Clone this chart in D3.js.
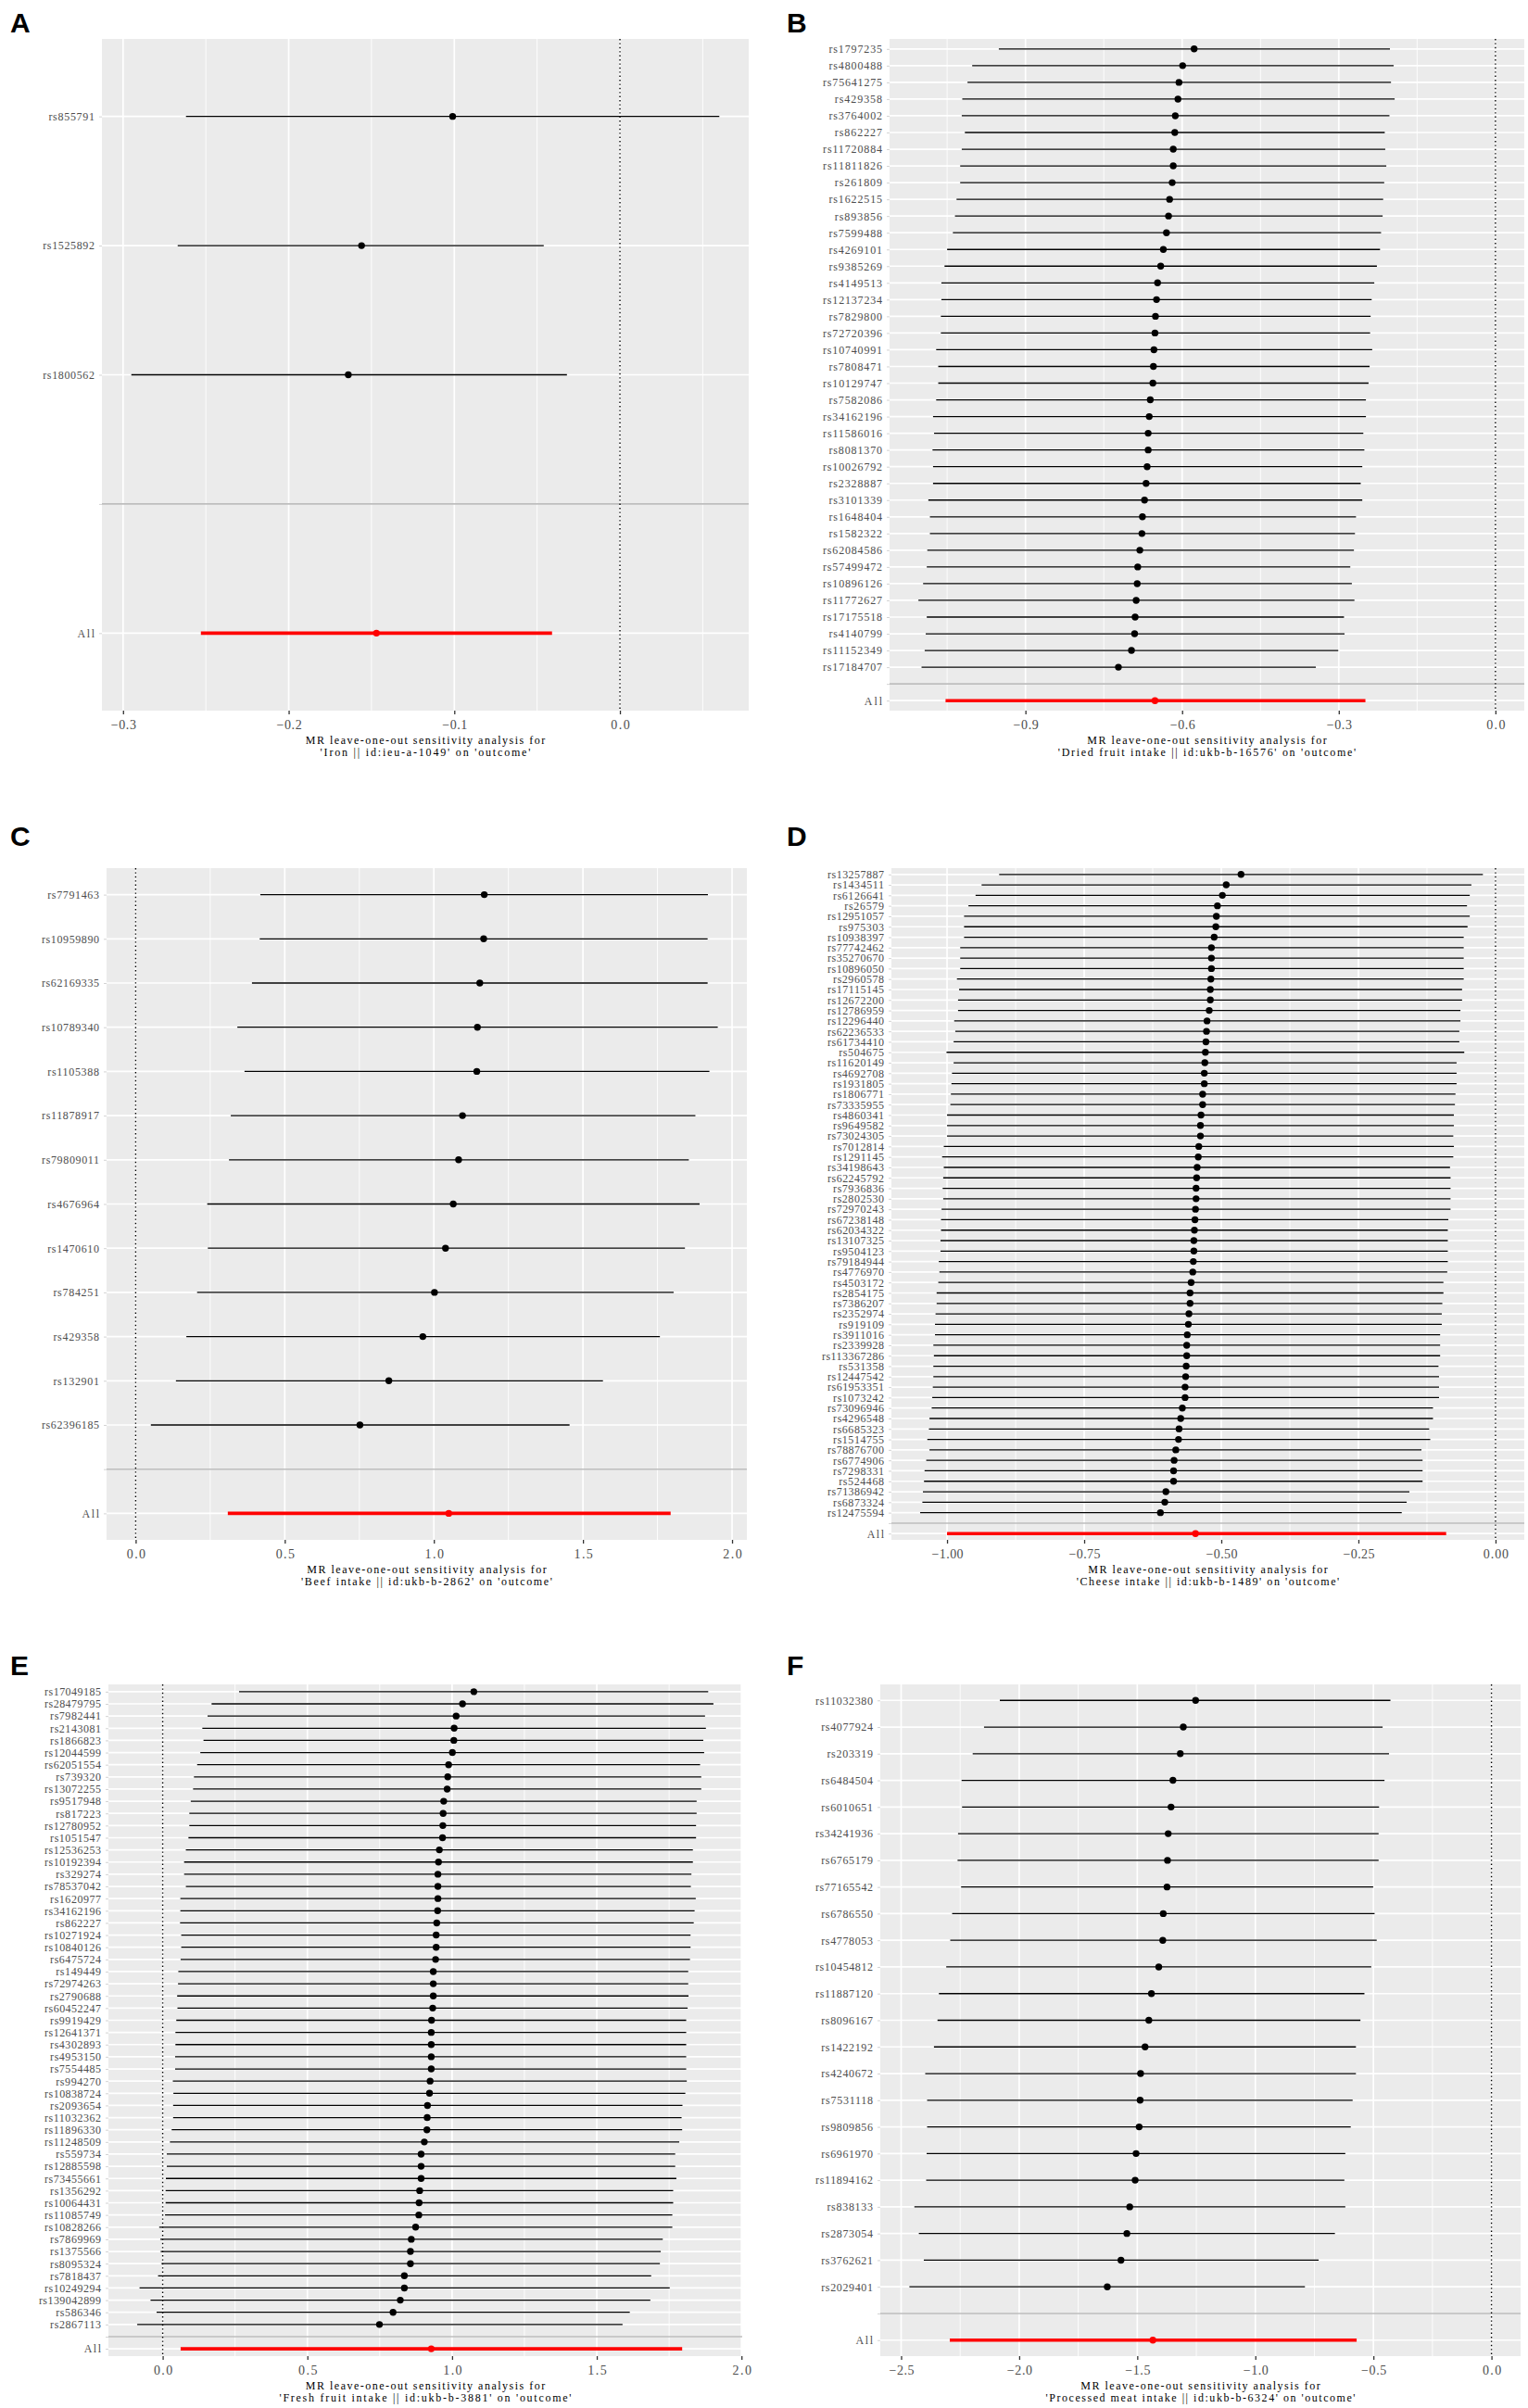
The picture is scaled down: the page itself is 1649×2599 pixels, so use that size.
<!DOCTYPE html>
<html>
<head>
<meta charset="utf-8">
<script src="https://cdn.jsdelivr.net/npm/d3@7/dist/d3.min.js"></script>
<style>
  body { margin: 0; background: #fff; }
</style>
</head>
<body>
<div id="chart"></div>
<script>
// ---------------------------------------------------------------
// Leave-one-out estimates (top row to bottom).
// "All" is kept apart: [b, lo, up]
// ---------------------------------------------------------------

// A: Iron
var snpsA = ["rs855791", "rs1525892", "rs1800562"];
var bA  = [-0.101, -0.156, -0.164];
var loA = [-0.262, -0.267, -0.295];
var upA = [0.060, -0.046, -0.032];
var allA = [-0.147, -0.253, -0.041];
var exposureA = "Iron || id:ieu-a-1049";
var ticksA = [-0.3, -0.2, -0.1, 0.0];

// B: Dried fruit intake
var snpsB = ["rs1797235", "rs4800488", "rs75641275", "rs429358", "rs3764002", "rs862227", "rs11720884",
  "rs11811826", "rs261809", "rs1622515", "rs893856", "rs7599488", "rs4269101", "rs9385269", "rs4149513",
  "rs12137234", "rs7829800", "rs72720396", "rs10740991", "rs7808471", "rs10129747", "rs7582086",
  "rs34162196", "rs11586016", "rs8081370", "rs10026792", "rs2328887", "rs3101339", "rs1648404",
  "rs1582322", "rs62084586", "rs57499472", "rs10896126", "rs11772627", "rs17175518", "rs4140799",
  "rs11152349", "rs17184707"];
var bB = [-0.577, -0.599, -0.606, -0.608, -0.613, -0.614, -0.617, -0.617, -0.619, -0.624, -0.626, -0.630,
  -0.636, -0.641, -0.647, -0.649, -0.651, -0.652, -0.654, -0.655, -0.656, -0.661, -0.663, -0.665, -0.665,
  -0.667, -0.669, -0.672, -0.676, -0.677, -0.681, -0.685, -0.686, -0.688, -0.690, -0.691, -0.697, -0.722];
var loB = [-0.951, -1.002, -1.011, -1.021, -1.022, -1.016, -1.022, -1.025, -1.025, -1.032, -1.035, -1.039,
  -1.050, -1.055, -1.061, -1.061, -1.062, -1.062, -1.071, -1.067, -1.067, -1.071, -1.077, -1.075, -1.078,
  -1.077, -1.077, -1.086, -1.083, -1.083, -1.088, -1.089, -1.096, -1.105, -1.089, -1.091, -1.093, -1.099];
var upB = [-0.202, -0.195, -0.200, -0.193, -0.203, -0.212, -0.211, -0.209, -0.213, -0.215, -0.216, -0.219,
  -0.221, -0.227, -0.232, -0.237, -0.239, -0.240, -0.236, -0.241, -0.243, -0.248, -0.248, -0.253, -0.251,
  -0.255, -0.258, -0.255, -0.267, -0.269, -0.271, -0.278, -0.275, -0.270, -0.290, -0.289, -0.301, -0.344];
var allB = [-0.652, -1.053, -0.249];
var exposureB = "Dried fruit intake || id:ukb-b-16576";
var ticksB = [-0.9, -0.6, -0.3, 0.0];

// C: Beef intake
var snpsC = ["rs7791463", "rs10959890", "rs62169335", "rs10789340", "rs1105388", "rs11878917",
  "rs79809011", "rs4676964", "rs1470610", "rs784251", "rs429358", "rs132901", "rs62396185"];
var bC  = [1.169, 1.167, 1.154, 1.146, 1.144, 1.096, 1.083, 1.065, 1.039, 1.002, 0.963, 0.849, 0.752];
var loC = [0.418, 0.416, 0.390, 0.341, 0.365, 0.319, 0.313, 0.240, 0.242, 0.206, 0.170, 0.135, 0.051];
var upC = [1.919, 1.918, 1.918, 1.952, 1.924, 1.877, 1.855, 1.891, 1.842, 1.804, 1.758, 1.567, 1.455];
var allC = [1.050, 0.309, 1.794];
var exposureC = "Beef intake || id:ukb-b-2862";
var ticksC = [0.0, 0.5, 1.0, 1.5, 2.0];

// D: Cheese intake
var snpsD = ["rs13257887", "rs1434511", "rs6126641", "rs26579", "rs12951057", "rs975303", "rs10938397",
  "rs77742462", "rs35270670", "rs10896050", "rs2960578", "rs17115145", "rs12672200", "rs12786959",
  "rs12296440", "rs62236533", "rs61734410", "rs504675", "rs11620149", "rs4692708", "rs1931805",
  "rs1806771", "rs73335955", "rs4860341", "rs9649582", "rs73024305", "rs7012814", "rs1291145",
  "rs34198643", "rs62245792", "rs7936836", "rs2802530", "rs72970243", "rs67238148", "rs62034322",
  "rs13107325", "rs9504123", "rs79184944", "rs4776970", "rs4503172", "rs2854175", "rs7386207",
  "rs2352974", "rs919109", "rs3911016", "rs2339928", "rs113367286", "rs531358", "rs12447542",
  "rs61953351", "rs1073242", "rs73096946", "rs4296548", "rs6685323", "rs1514755", "rs78876700",
  "rs6774906", "rs7298331", "rs524468", "rs71386942", "rs6873324", "rs12475594"];
var bD = [-0.464, -0.491, -0.498, -0.507, -0.509, -0.510, -0.513, -0.518, -0.518, -0.518, -0.519, -0.520,
  -0.520, -0.522, -0.526, -0.527, -0.528, -0.529, -0.530, -0.531, -0.531, -0.534, -0.534, -0.537, -0.538,
  -0.538, -0.541, -0.542, -0.544, -0.545, -0.546, -0.546, -0.547, -0.548, -0.549, -0.550, -0.550, -0.551,
  -0.552, -0.555, -0.557, -0.557, -0.559, -0.560, -0.562, -0.563, -0.563, -0.564, -0.565, -0.566, -0.566,
  -0.571, -0.574, -0.577, -0.578, -0.583, -0.586, -0.587, -0.587, -0.601, -0.603, -0.611];
var loD = [-0.905, -0.937, -0.948, -0.961, -0.969, -0.969, -0.969, -0.976, -0.976, -0.976, -0.982, -0.978,
  -0.980, -0.980, -0.987, -0.985, -0.988, -1.001, -0.988, -0.991, -0.992, -0.993, -0.994, -1.000, -1.000,
  -1.000, -1.006, -1.009, -1.006, -1.007, -1.008, -1.007, -1.010, -1.011, -1.011, -1.012, -1.012, -1.015,
  -1.014, -1.016, -1.019, -1.019, -1.021, -1.022, -1.022, -1.025, -1.024, -1.025, -1.025, -1.026, -1.027,
  -1.028, -1.032, -1.033, -1.036, -1.032, -1.038, -1.041, -1.042, -1.044, -1.045, -1.049];
var upD = [-0.023, -0.044, -0.047, -0.052, -0.047, -0.051, -0.058, -0.058, -0.058, -0.058, -0.058, -0.061,
  -0.061, -0.064, -0.064, -0.066, -0.066, -0.057, -0.071, -0.071, -0.071, -0.073, -0.074, -0.076, -0.076,
  -0.077, -0.076, -0.077, -0.083, -0.082, -0.082, -0.082, -0.082, -0.086, -0.087, -0.087, -0.087, -0.087,
  -0.088, -0.095, -0.095, -0.097, -0.098, -0.098, -0.101, -0.101, -0.101, -0.104, -0.103, -0.103, -0.103,
  -0.114, -0.114, -0.121, -0.119, -0.135, -0.133, -0.133, -0.133, -0.157, -0.162, -0.171];
var allD = [-0.547, -1.000, -0.090];
var exposureD = "Cheese intake || id:ukb-b-1489";
var ticksD = [-1.00, -0.75, -0.50, -0.25, 0.00];

// E: Fresh fruit intake
var snpsE = ["rs17049185", "rs28479795", "rs7982441", "rs2143081", "rs1866823", "rs12044599",
  "rs62051554", "rs739320", "rs13072255", "rs9517948", "rs817223", "rs12780952", "rs1051547",
  "rs12536253", "rs10192394", "rs329274", "rs78537042", "rs1620977", "rs34162196", "rs862227",
  "rs10271924", "rs10840126", "rs6475724", "rs149449", "rs72974263", "rs2790688", "rs60452247",
  "rs9919429", "rs12641371", "rs4302893", "rs4953150", "rs7554485", "rs994270", "rs10838724",
  "rs2093654", "rs11032362", "rs11896330", "rs11248509", "rs559734", "rs12885598", "rs73455661",
  "rs1356292", "rs10064431", "rs11085749", "rs10828266", "rs7869969", "rs1375566", "rs8095324",
  "rs7818437", "rs10249294", "rs139042899", "rs586346", "rs2867113"];
var bE = [1.075, 1.036, 1.014, 1.007, 1.006, 1.001, 0.988, 0.985, 0.983, 0.971, 0.969, 0.968, 0.967,
  0.956, 0.953, 0.951, 0.951, 0.951, 0.950, 0.947, 0.945, 0.945, 0.943, 0.935, 0.935, 0.935, 0.933,
  0.929, 0.928, 0.928, 0.928, 0.928, 0.924, 0.922, 0.915, 0.914, 0.913, 0.904, 0.893, 0.893, 0.893,
  0.888, 0.886, 0.885, 0.874, 0.859, 0.856, 0.856, 0.835, 0.835, 0.821, 0.796, 0.749];
var loE = [0.264, 0.169, 0.155, 0.137, 0.141, 0.130, 0.119, 0.108, 0.105, 0.097, 0.092, 0.092, 0.089,
  0.080, 0.074, 0.074, 0.080, 0.061, 0.061, 0.060, 0.064, 0.064, 0.062, 0.054, 0.053, 0.050, 0.051,
  0.047, 0.044, 0.044, 0.043, 0.043, 0.035, 0.037, 0.036, 0.036, 0.031, 0.025, 0.014, 0.014, 0.011,
  0.010, 0.010, 0.008, -0.012, -0.008, -0.007, -0.004, -0.016, -0.080, -0.042, -0.021, -0.088];
var upE = [1.885, 1.903, 1.874, 1.877, 1.868, 1.871, 1.857, 1.861, 1.861, 1.845, 1.845, 1.843, 1.843,
  1.832, 1.832, 1.827, 1.825, 1.842, 1.838, 1.835, 1.824, 1.824, 1.822, 1.816, 1.816, 1.817, 1.814,
  1.809, 1.809, 1.809, 1.809, 1.809, 1.811, 1.806, 1.796, 1.793, 1.795, 1.785, 1.771, 1.771, 1.775,
  1.764, 1.764, 1.761, 1.761, 1.728, 1.721, 1.718, 1.688, 1.752, 1.685, 1.614, 1.589];
var allE = [0.928, 0.062, 1.795];
var exposureE = "Fresh fruit intake || id:ukb-b-3881";
var ticksE = [0.0, 0.5, 1.0, 1.5, 2.0];

// F: Processed meat intake
var snpsF = ["rs11032380", "rs4077924", "rs203319", "rs6484504", "rs6010651", "rs34241936", "rs6765179",
  "rs77165542", "rs6786550", "rs4778053", "rs10454812", "rs11887120", "rs8096167", "rs1422192",
  "rs4240672", "rs7531118", "rs9809856", "rs6961970", "rs11894162", "rs838133", "rs2873054",
  "rs3762621", "rs2029401"];
var bF = [-1.253, -1.305, -1.318, -1.349, -1.357, -1.369, -1.372, -1.374, -1.390, -1.392, -1.409, -1.440,
  -1.451, -1.467, -1.486, -1.488, -1.492, -1.505, -1.509, -1.532, -1.544, -1.569, -1.627];
var loF = [-2.082, -2.149, -2.197, -2.244, -2.242, -2.259, -2.261, -2.246, -2.284, -2.292, -2.309, -2.340,
  -2.346, -2.361, -2.398, -2.390, -2.390, -2.392, -2.394, -2.444, -2.425, -2.404, -2.465];
var upF = [-0.428, -0.461, -0.434, -0.453, -0.476, -0.478, -0.478, -0.501, -0.495, -0.486, -0.509, -0.538,
  -0.555, -0.574, -0.574, -0.588, -0.596, -0.619, -0.623, -0.619, -0.663, -0.732, -0.790];
var allF = [-1.434, -2.294, -0.571];
var exposureF = "Processed meat intake || id:ukb-b-6324";
var ticksF = [-2.5, -2.0, -1.5, -1.0, -0.5, 0.0];

// ---------------------------------------------------------------
// Page layout (pixels of the 1649 x 2599 page)
// ---------------------------------------------------------------
var width = 1649, height = 2599;
var panelH = 725;

var panels = [
  { tag: "A", x: 110, y: 42,   w: 698, tagX: 11,  tagY: 35,   snps: snpsA, b: bA, lo: loA, up: upA, all: allA, exposure: exposureA, ticks: ticksA, fmt: ".1f", pitch: 6.2 },
  { tag: "B", x: 960, y: 42,   w: 685, tagX: 849, tagY: 35,   snps: snpsB, b: bB, lo: loB, up: upB, all: allB, exposure: exposureB, ticks: ticksB, fmt: ".1f", pitch: 6.4 },
  { tag: "C", x: 115, y: 937,  w: 691, tagX: 11,  tagY: 913,  snps: snpsC, b: bC, lo: loC, up: upC, all: allC, exposure: exposureC, ticks: ticksC, fmt: ".1f", pitch: 6.2 },
  { tag: "D", x: 962, y: 937,  w: 683, tagX: 849, tagY: 913,  snps: snpsD, b: bD, lo: loD, up: upD, all: allD, exposure: exposureD, ticks: ticksD, fmt: ".2f", pitch: 6.1 },
  { tag: "E", x: 117, y: 1818, w: 684, tagX: 11,  tagY: 1808, snps: snpsE, b: bE, lo: loE, up: upE, all: allE, exposure: exposureE, ticks: ticksE, fmt: ".1f", pitch: 6.1 },
  { tag: "F", x: 950, y: 1818, w: 691, tagX: 849, tagY: 1808, snps: snpsF, b: bF, lo: loF, up: upF, all: allF, exposure: exposureF, ticks: ticksF, fmt: ".1f", pitch: 6.2 }
];

var fontText = "'Liberation Serif', 'DejaVu Serif', serif";

var svg = d3.select("#chart").append("svg")
  .attr("width", width)
  .attr("height", height)
  .style("background", "#fff");

// fake the fixed-pitch look of the original device font
function pitch(sel, p) {
  sel.each(function() {
    var n = this.textContent.length;
    if (n > 0) {
      d3.select(this).attr("textLength", n * p).attr("lengthAdjust", "spacing");
    }
  });
}

panels.forEach(drawPanel);

function drawPanel(p) {
  var rows = p.snps.map(function(s, i) {
    return { snp: s, b: p.b[i], lo: p.lo[i], up: p.up[i], tot: false };
  });
  rows.push({ snp: "All", b: p.all[0], lo: p.all[1], up: p.all[2], tot: true });

  var levels = p.snps.concat(["", "All"]);

  // ggplot style limits: data + zero line, 5% expansion
  var lo = d3.min(rows, function(d) { return d.lo; }),
      hi = d3.max(rows, function(d) { return d.up; });
  lo = Math.min(lo, 0);
  hi = Math.max(hi, 0);
  var pad = (hi - lo) * 0.05;

  var x = d3.scaleLinear()
    .domain([lo - pad, hi + pad])
    .range([0, p.w]);

  var y = d3.scalePoint()
    .domain(levels)
    .range([0, panelH])
    .padding(0.6);

  var g = svg.append("g")
    .attr("transform", "translate(" + p.x + "," + p.y + ")");

  // panel background
  g.append("rect")
    .attr("width", p.w)
    .attr("height", panelH)
    .attr("fill", "#EBEBEB");

  // minor x grid between the breaks
  var step = p.ticks[1] - p.ticks[0];
  var minor = [];
  for (var i = -1; i < p.ticks.length; i++) {
    var m = p.ticks[0] + (i + 0.5) * step;
    if (m > x.domain()[0] && m < x.domain()[1]) minor.push(m);
  }
  g.selectAll("line.minor")
    .data(minor)
    .enter().append("line")
    .attr("class", "minor")
    .attr("x1", x).attr("x2", x)
    .attr("y1", 0).attr("y2", panelH)
    .attr("stroke", "#fff")
    .attr("stroke-width", 0.9);

  // major x grid
  g.selectAll("line.major")
    .data(p.ticks)
    .enter().append("line")
    .attr("class", "major")
    .attr("x1", x).attr("x2", x)
    .attr("y1", 0).attr("y2", panelH)
    .attr("stroke", "#fff")
    .attr("stroke-width", 1.7);

  // y grid, one per SNP level
  g.selectAll("line.ygrid")
    .data(levels.filter(function(d) { return d !== ""; }))
    .enter().append("line")
    .attr("class", "ygrid")
    .attr("x1", 0).attr("x2", p.w)
    .attr("y1", y).attr("y2", y)
    .attr("stroke", "#fff")
    .attr("stroke-width", 1.7);

  // grey separator at the blank level
  g.append("line")
    .attr("x1", 0).attr("x2", p.w)
    .attr("y1", y("")).attr("y2", y(""))
    .attr("stroke", "#BEBEBE")
    .attr("stroke-width", 1.6);

  // zero line
  g.append("line")
    .attr("x1", x(0)).attr("x2", x(0))
    .attr("y1", 0).attr("y2", panelH)
    .attr("stroke", "#000")
    .attr("stroke-width", 1.4)
    .attr("stroke-dasharray", "1.4,3");

  // error bars
  g.selectAll("line.ci")
    .data(rows)
    .enter().append("line")
    .attr("class", "ci")
    .attr("x1", function(d) { return x(d.lo); })
    .attr("x2", function(d) { return x(d.up); })
    .attr("y1", function(d) { return y(d.snp); })
    .attr("y2", function(d) { return y(d.snp); })
    .attr("stroke", function(d) { return d.tot ? "#FF0000" : "#000"; })
    .attr("stroke-width", function(d) { return d.tot ? 3.6 : 1.3; });

  // point estimates
  g.selectAll("circle.est")
    .data(rows)
    .enter().append("circle")
    .attr("class", "est")
    .attr("cx", function(d) { return x(d.b); })
    .attr("cy", function(d) { return y(d.snp); })
    .attr("r", 3.7)
    .attr("fill", function(d) { return d.tot ? "#FF0000" : "#000"; });

  // x axis
  var xAxis = g.append("g")
    .attr("transform", "translate(0," + panelH + ")")
    .call(d3.axisBottom(x)
      .tickValues(p.ticks)
      .tickFormat(d3.format(p.fmt))
      .tickSize(4)
      .tickPadding(6));
  xAxis.select(".domain").remove();
  xAxis.selectAll(".tick line").attr("stroke", "#333").attr("stroke-width", 1.3);
  xAxis.selectAll("text")
    .attr("fill", "#4D4D4D")
    .style("font-family", fontText)
    .style("font-size", "14px")
    .call(pitch, 6.8);

  // y axis
  var yAxis = g.append("g")
    .call(d3.axisLeft(y).tickSize(3).tickPadding(5));
  yAxis.select(".domain").remove();
  yAxis.selectAll(".tick line").attr("stroke", "#C8C8C8").attr("stroke-width", 0.8);
  yAxis.selectAll("text")
    .attr("fill", "#4D4D4D")
    .style("font-family", fontText)
    .style("font-size", "12px")
    .call(pitch, p.pitch);

  // axis title, two lines
  var title = g.append("text")
    .attr("text-anchor", "middle")
    .attr("fill", "#000")
    .style("font-family", fontText)
    .style("font-size", "12px");
  title.append("tspan")
    .attr("x", p.w / 2)
    .attr("y", panelH + 36)
    .text("MR leave-one-out sensitivity analysis for");
  title.append("tspan")
    .attr("x", p.w / 2)
    .attr("y", panelH + 49)
    .text("'" + p.exposure + "' on 'outcome'");
  title.selectAll("tspan").call(pitch, 6.3);

  // panel tag
  svg.append("text")
    .attr("x", p.tagX)
    .attr("y", p.tagY)
    .style("font-family", "'Liberation Sans', Arial, sans-serif")
    .style("font-weight", "bold")
    .style("font-size", "30px")
    .text(p.tag);
}
</script>
</body>
</html>
